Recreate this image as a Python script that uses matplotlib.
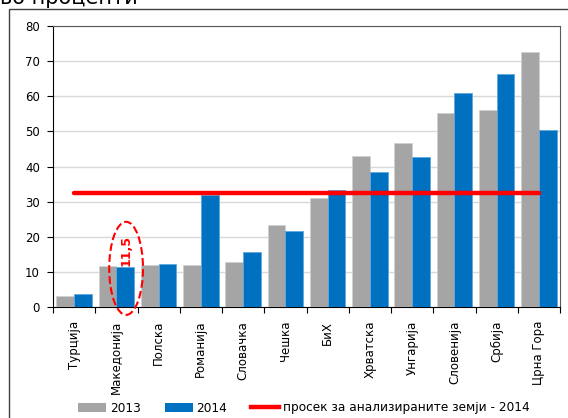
import matplotlib.pyplot as plt
from matplotlib.patches import Ellipse, Rectangle
from matplotlib.lines import Line2D
from matplotlib.patches import Patch
import numpy as np

countries = ['Турција', 'Македонија', 'Полска', 'Романија', 'Словачка', 'Чешка',
             'БиХ', 'Хрватска', 'Унгарија', 'Словенија', 'Србија', 'Црна Гора']
vals_2013 = [3.2, 11.7, 12.0, 12.0, 12.9, 23.3, 31.0, 43.0, 46.8, 55.3, 56.0, 72.7]
vals_2014 = [3.8, 11.5, 12.2, 31.9, 15.6, 21.7, 33.3, 38.5, 42.7, 60.9, 66.4, 50.5]
average_2014 = 32.4
y_ticks = [0, 10, 20, 30, 40, 50, 60, 70, 80]

GRAY = '#A5A5A5'
BLUE = '#0070C0'
RED = '#FF0000'

plt.rcParams['font.family'] = 'DejaVu Sans'

fig = plt.figure(figsize=(5.68, 4.18), dpi=100)
W, H = 568, 418

# outer chart frame (cut off at right and bottom)
fig.patches.append(Rectangle((9 / W, -0.1), 1.2, 1 - 9.5 / H + 0.1,
                             transform=fig.transFigure, fill=False,
                             edgecolor='#404040', linewidth=1.0))
fig.text(0.0, 1 - 4.5 / H, 'во проценти', fontsize=15, ha='left', va='baseline')

ax = fig.add_axes([53 / W, 1 - 307 / H, (560 - 53) / W, (307 - 26) / H])

x = np.arange(len(countries))
bw = 0.42
ax.bar(x - bw / 2, vals_2013, bw, color=GRAY, edgecolor='#D0D0D0', linewidth=0.6, zorder=3)
ax.bar(x + bw / 2, vals_2014, bw, color=BLUE, edgecolor='#5FA8DC', linewidth=0.6, zorder=3)
ax.plot(x, [average_2014] * len(x), color=RED, linewidth=3.2, solid_capstyle='round', zorder=4)

ax.set_xlim(-0.5, len(countries) - 0.5)
ax.set_ylim(0, 80)
ax.set_yticks(y_ticks)
ax.tick_params(axis='y', labelsize=8.5, length=4, width=0.8, pad=5.5)
ax.yaxis.grid(True, color='#D9D9D9', linewidth=1.0, zorder=0)

ax.set_xticks(x)
ax.set_xticklabels(countries, rotation=90, fontsize=8.5)
ax.tick_params(axis='x', length=0, pad=10)
ax.set_xticks(np.arange(len(countries) + 1) - 0.5, minor=True)
ax.tick_params(axis='x', which='minor', length=4, width=0.8)

for side in ['top', 'right']:
    ax.spines[side].set_color('#595959')
ax.spines['left'].set_color('black')
ax.spines['bottom'].set_color('black')

# highlighted Macedonia value
ax.add_patch(Ellipse((1 + bw / 2 + 0.02, 11.0), 0.8, 26.5, fill=False,
                     edgecolor=RED, linestyle='--', linewidth=1.5, zorder=5,
                     clip_on=False))
ax.text(1 + bw / 2 + 0.02, 16.0, '11,5', rotation=90, color=RED, fontsize=9,
        fontweight='bold', ha='center', va='center', zorder=6)

handles = [Patch(facecolor=GRAY), Patch(facecolor=BLUE),
           Line2D([0], [0], color=RED, linewidth=3.2)]
labels = ['2013', '2014', 'просек за анализираните земји - 2014']
fig.legend(handles, labels, loc='center', bbox_to_anchor=(0.535, 1 - 408 / H),
           ncol=3, frameon=False, fontsize=8.7, handlelength=2.3, handleheight=0.7,
           handletextpad=0.3, columnspacing=2.0)

fig.savefig('out.png', dpi=100)
